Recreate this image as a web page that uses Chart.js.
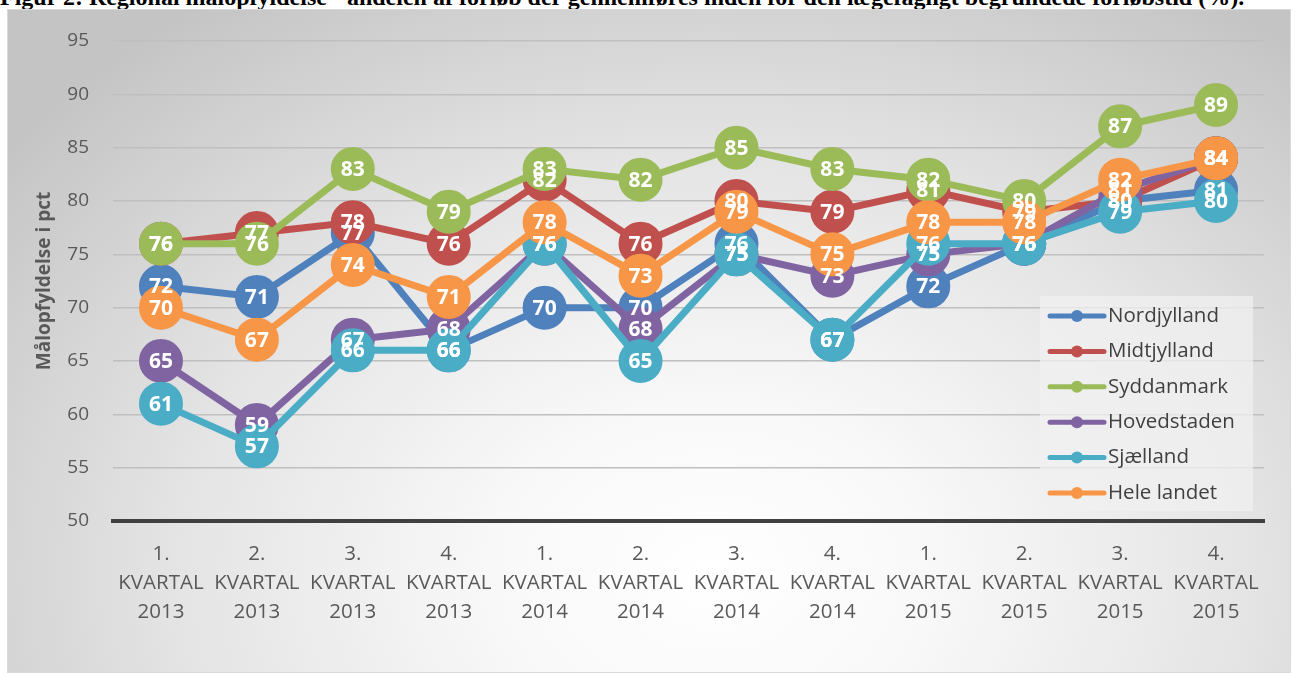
<!DOCTYPE html>
<html><head><meta charset="utf-8">
<script src="https://cdn.jsdelivr.net/npm/chart.js@4.4.1/dist/chart.umd.min.js"></script>
<style>
html,body{margin:0;padding:0;background:#fff;width:1298px;height:675px;overflow:hidden;position:relative;}
#title{position:absolute;left:0;top:-15px;font:bold 24px "Liberation Serif","Times New Roman",serif;white-space:nowrap;color:#000;line-height:24px;}
#box{position:absolute;left:8px;top:10px;width:1282px;height:662px;
 background:radial-gradient(ellipse 70% 105% at 55% 85%, #ffffff 0%, #f8f8f8 25%, #e4e4e4 60%, #d0d0d0 85%, #c4c4c4 100%);
 outline:1px solid #d9d9d9;}
#c{position:absolute;left:0;top:0;}
</style></head>
<body>
<div id="title">Figur 2: Regional målopfyldelse - andelen af forløb der gennemføres inden for den lægefagligt begrundede forløbstid (%).</div>
<div id="box"><canvas id="c" width="1282" height="662"></canvas></div>
<script>
const categories = [
  ["1.","KVARTAL","2013"],["2.","KVARTAL","2013"],["3.","KVARTAL","2013"],["4.","KVARTAL","2013"],
  ["1.","KVARTAL","2014"],["2.","KVARTAL","2014"],["3.","KVARTAL","2014"],["4.","KVARTAL","2014"],
  ["1.","KVARTAL","2015"],["2.","KVARTAL","2015"],["3.","KVARTAL","2015"],["4.","KVARTAL","2015"]
];
const seriesNames = ["Nordjylland","Midtjylland","Syddanmark","Hovedstaden","Sjælland","Hele landet"];
const nordjylland = [72,71,77,66,70,70,76,67,72,76,80,81];
const midtjylland = [76,77,78,76,82,76,80,79,81,79,80,84];
const syddanmark  = [76,76,83,79,83,82,85,83,82,80,87,89];
const hovedstaden = [65,59,67,68,76,68,75,73,75,76,81,84];
const sjaelland   = [61,57,66,66,76,65,75,67,76,76,79,80];
const heleLandet  = [70,67,74,71,78,73,79,75,78,78,82,84];
const yTicks = {min:50, max:95, step:5};
const colors = ["#4f81bd","#c0504d","#9bbb59","#8064a2","#4bacc6","#f79646"];
const values = [nordjylland,midtjylland,syddanmark,hovedstaden,sjaelland,heleLandet];

const FONT = '"Open Sans", "DejaVu Sans", sans-serif';

const datasets = values.map((v,i)=>({
  label: seriesNames[i],
  data: v,
  borderColor: colors[i],
  backgroundColor: colors[i],
  pointBackgroundColor: colors[i],
  pointBorderColor: colors[i],
  borderWidth: 7,
  pointRadius: 21,
  pointHoverRadius: 21,
  pointBorderWidth: 2,
  tension: 0,
  order: values.length - 1 - i
}));

const labelPlugin = {
  id: 'pointLabels',
  afterDatasetsDraw(chart){
    const ctx = chart.ctx;
    ctx.save();
    ctx.font = 'bold 21px ' + FONT;
    ctx.fillStyle = '#ffffff';
    ctx.textAlign = 'center';
    ctx.textBaseline = 'middle';
    chart.data.datasets.forEach((ds,i)=>{
      const meta = chart.getDatasetMeta(i);
      meta.data.forEach((pt,j)=>{
        ctx.fillText(String(ds.data[j]), pt.x, pt.y + 1);
      });
    });
    ctx.restore();
  }
};

const legendPlugin = {
  id: 'boxLegend',
  afterDraw(chart){
    const ctx = chart.ctx;
    ctx.save();
    const bx = 1032, by = 286, bw = 213, bh = 215;
    ctx.fillStyle = 'rgba(240,240,240,0.75)';
    ctx.fillRect(bx, by, bw, bh);
    ctx.font = '20.5px ' + FONT;
    ctx.textAlign = 'left';
    ctx.textBaseline = 'middle';
    chart.data.datasets.forEach((ds,i)=>{
      const y = 306 + i*35.4;
      ctx.strokeStyle = ds.borderColor;
      ctx.lineWidth = 5;
      ctx.lineCap = 'round';
      ctx.beginPath(); ctx.moveTo(1042, y); ctx.lineTo(1096, y); ctx.stroke();
      ctx.fillStyle = ds.borderColor;
      ctx.beginPath(); ctx.arc(1069, y, 6, 0, Math.PI*2); ctx.fill();
      ctx.fillStyle = '#404040';
      ctx.fillText(ds.label, 1100, y);
    });
    ctx.restore();
  }
};

new Chart(document.getElementById('c'), {
  type: 'line',
  data: { labels: categories, datasets },
  options: {
    responsive: false,
    animation: false,
    layout: { padding: { top: 31, right: 26, left: 0, bottom: 0 } },
    plugins: { legend: { display: false }, tooltip: { enabled: false } },
    scales: {
      x: {
        offset: true,
        afterFit(s){ s.height = 151; },
        grid: { display: false, drawTicks: false },
        border: { display: true, color: '#404040', width: 4 },
        ticks: { color: '#595959', font: { family: FONT, size: 20.5, lineHeight: 29/20.5 }, padding: 19, maxRotation: 0, autoSkip: false }
      },
      y: {
        min: yTicks.min, max: yTicks.max,
        afterFit(s){ s.width = 105; s.paddingTop = 0; s.paddingBottom = 0; },
        grid: { color: '#bfbfbf', lineWidth: 1.5, drawTicks: false },
        border: { display: false },
        ticks: { stepSize: yTicks.step, color: '#595959', font: { family: FONT, size: 19 }, padding: 24 },
        title: { display: true, text: 'Målopfyldelse i pct', color: '#595959', font: { family: FONT, size: 19, weight: 'bold' }, padding: { top: 25, bottom: 0 } }
      }
    }
  },
  plugins: [labelPlugin, legendPlugin]
});
</script>
</body></html>
